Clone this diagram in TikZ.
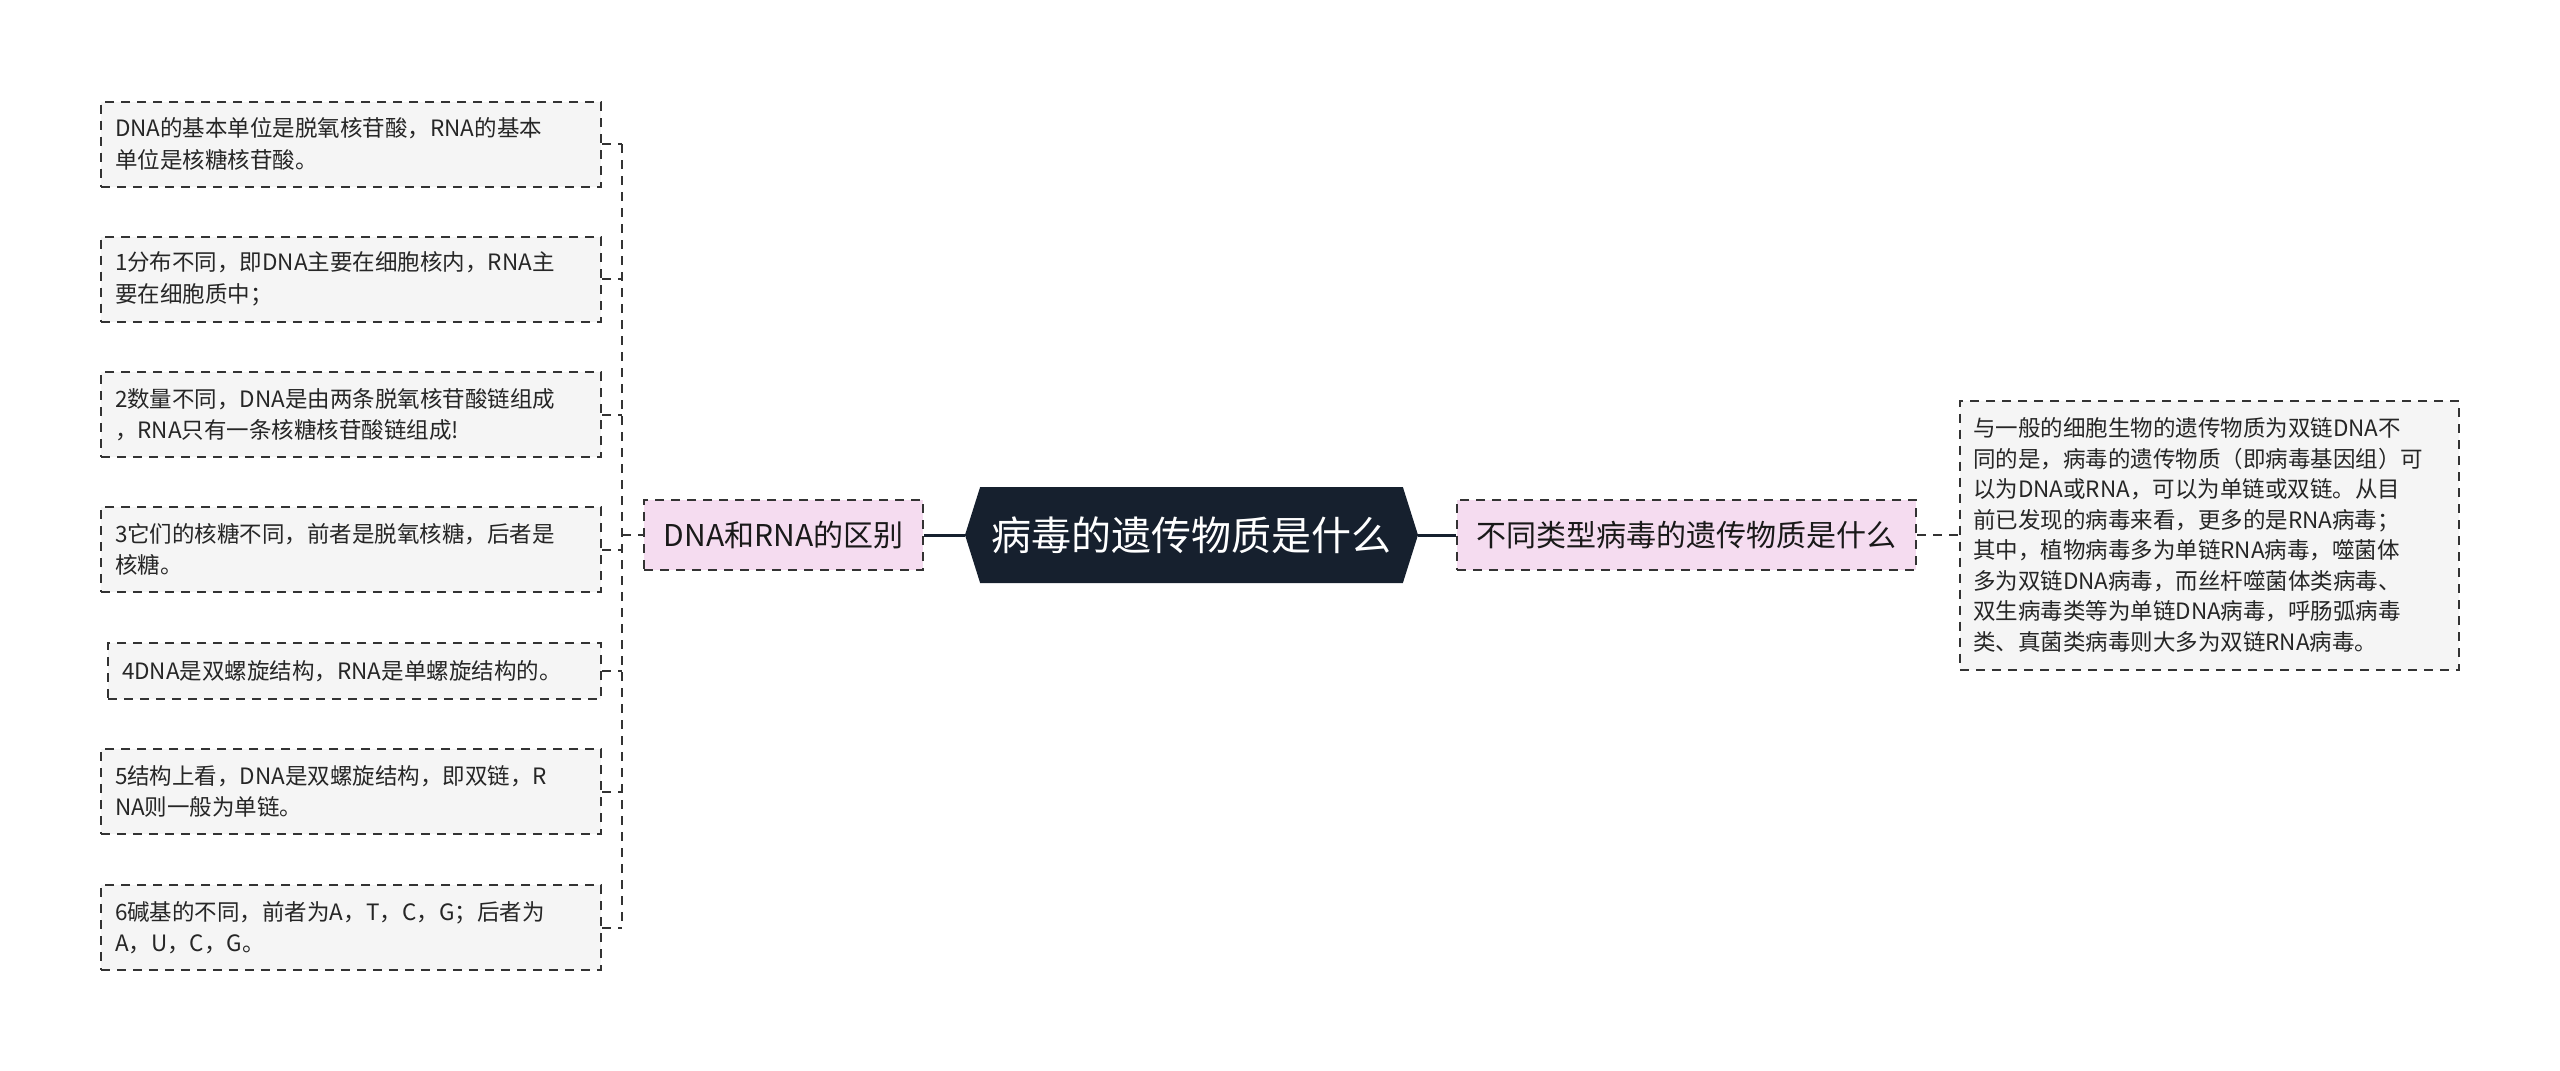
\documentclass[tikz,border=0pt]{standalone}
\usepackage{fontspec}
\setmainfont{Noto Sans CJK SC}
\usetikzlibrary{shapes.symbols}

\definecolor{leafgray}{HTML}{F5F5F5}
\definecolor{branchpink}{HTML}{F5DCF0}
\definecolor{rootnavy}{HTML}{16202E}
\definecolor{linegray}{HTML}{333333}

\tikzstyle{box}=[rectangle, draw=linegray, line width=1pt, dash pattern=on 4.5pt off 3.5pt]
\tikzstyle{leaf}=[box, fill=leafgray, text=black!85, align=left, text width=236pt, inner xsep=7pt,
  minimum height=42.5pt, font=\fontsize{11.25pt}{15.75pt}\selectfont]
\tikzstyle{branch}=[box, fill=branchpink, text=black!90, minimum height=35pt,
  font=\fontsize{15pt}{18pt}\selectfont]
\tikzstyle{root}=[signal, signal to=east and west, signal pointer angle=145, fill=rootnavy,
  text=white, minimum width=226.5pt, minimum height=48pt, inner sep=0pt,
  font=\fontsize{20pt}{24pt}\selectfont]
\tikzstyle{link}=[draw=linegray, line width=1pt, dash pattern=on 4.5pt off 3.5pt]
\tikzstyle{mainlink}=[draw=rootnavy, line width=1.5pt]

\begin{document}
\begin{tikzpicture}
\useasboundingbox (0,0) rectangle (1280pt,-535.5pt);

\node [root] (C) at (595.75pt,-267.5pt) {病毒的遗传物质是什么};

\node [branch, left of=C, node distance=204pt, minimum width=139.5pt] (B1) {DNA和RNA的区别};
\node [branch, right of=C, node distance=247.5pt, minimum width=229.5pt] (B2) {不同类型病毒的遗传物质是什么};

\node [leaf, right of=B2, node distance=261.5pt, text width=236.5pt, inner xsep=6.5pt,
  minimum height=134.5pt, font=\fontsize{11.25pt}{15.25pt}\selectfont] (R1)
  {与一般的细胞生物的遗传物质为双链DNA不\\同的是，病毒的遗传物质（即病毒基因组）可\\以为DNA或RNA，可以为单链或双链。从目\\前已发现的病毒来看，更多的是RNA病毒；\\其中，植物病毒多为单链RNA病毒，噬菌体\\多为双链DNA病毒，而丝杆噬菌体类病毒、\\双生病毒类等为单链DNA病毒，呼肠弧病毒\\类、真菌类病毒则大多为双链RNA病毒。};

\node [leaf] (A1) at (175.5pt,-72pt) {DNA的基本单位是脱氧核苷酸，RNA的基本\\单位是核糖核苷酸。};
\node [leaf, below of=A1, node distance=67.5pt] (A2) {1分布不同，即DNA主要在细胞核内，RNA主\\要在细胞质中；};
\node [leaf, below of=A2, node distance=67.75pt] (A3) {2数量不同，DNA是由两条脱氧核苷酸链组成\\，RNA只有一条核糖核苷酸链组成!};
\node [leaf, below of=A3, node distance=67.5pt] (A4) {3它们的核糖不同，前者是脱氧核糖，后者是\\核糖。};
\node [leaf, below of=A4, node distance=60.75pt, xshift=1.75pt, text width=232.5pt,
  minimum height=28pt] (A5) {4DNA是双螺旋结构，RNA是单螺旋结构的。};
\node [leaf, below of=A5, node distance=60.25pt, xshift=-1.75pt] (A6) {5结构上看，DNA是双螺旋结构，即双链，R\\NA则一般为单链。};
\node [leaf, below of=A6, node distance=68pt] (A7) {6碱基的不同，前者为A，T，C，G；后者为\\A，U，C，G。};

\coordinate (T) at (311pt,-267.5pt);

\path [link] (A1.east -| T) edge (A7.east -| T) (T) edge (B1.west)
  (A1.east) edge (A1.east -| T) (A2.east) edge (A2.east -| T) (A3.east) edge (A3.east -| T)
  (A4.east) edge (A4.east -| T) (A5.east) edge (A5.east -| T) (A6.east) edge (A6.east -| T)
  (A7.east) edge (A7.east -| T) (B2.east) edge (R1.west);
\path [mainlink] (B1.east) edge (C.west) (C.east) edge (B2.west);
\end{tikzpicture}
\end{document}
